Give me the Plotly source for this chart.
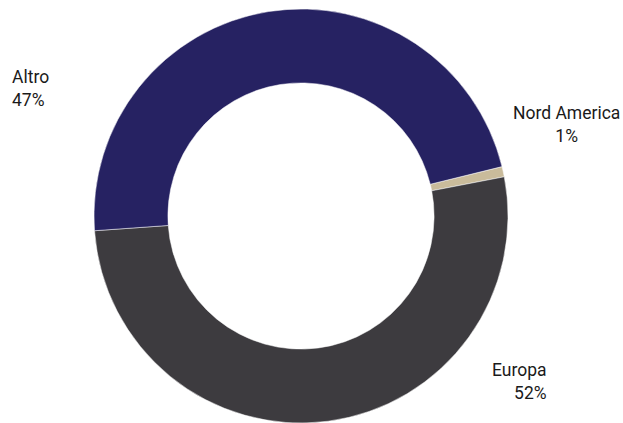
import plotly.graph_objects as go

categories = ["Nord America", "Europa", "Altro"]
values = [0.8, 51.9, 47.3]
colors = ["#c9bb9b", "#3d3b3f", "#262262"]

W, H = 623, 423
FONT = "Roboto, Liberation Sans, Arial, sans-serif"

fig = go.Figure(go.Pie(
    labels=categories,
    values=values,
    hole=0.643,
    sort=False,
    direction="clockwise",
    rotation=76.2,
    marker=dict(colors=colors, line=dict(color="white", width=0.5)),
    textinfo="none",
    hoverinfo="label+percent",
    domain=dict(x=[94 / W, 508 / W], y=[0, 414 / H]),
    showlegend=False,
))

total = sum(values)
pct = [f"{round(v / total * 100)}%" for v in values]

labels_pos = {
    "Altro": dict(x=10 / W, y=1 - 89 / H, xanchor="left", align="left"),
    "Nord America": dict(x=566 / W, y=1 - 125 / H, xanchor="center", align="center"),
    "Europa": dict(x=549 / W, y=1 - 381 / H, xanchor="right", align="right"),
}

for cat, p in zip(categories, pct):
    pos = labels_pos[cat]
    fig.add_annotation(
        text=f"{cat}<br>{p}", xref="paper", yref="paper",
        x=pos["x"], y=pos["y"], xanchor=pos["xanchor"], yanchor="middle",
        align=pos["align"], showarrow=False,
        font=dict(family=FONT, size=17.5, color="#1a1a1a"),
    )

fig.update_layout(
    width=W, height=H,
    margin=dict(l=0, r=0, t=0, b=0),
    paper_bgcolor="white", plot_bgcolor="white",
)

fig.write_html("out.html")
